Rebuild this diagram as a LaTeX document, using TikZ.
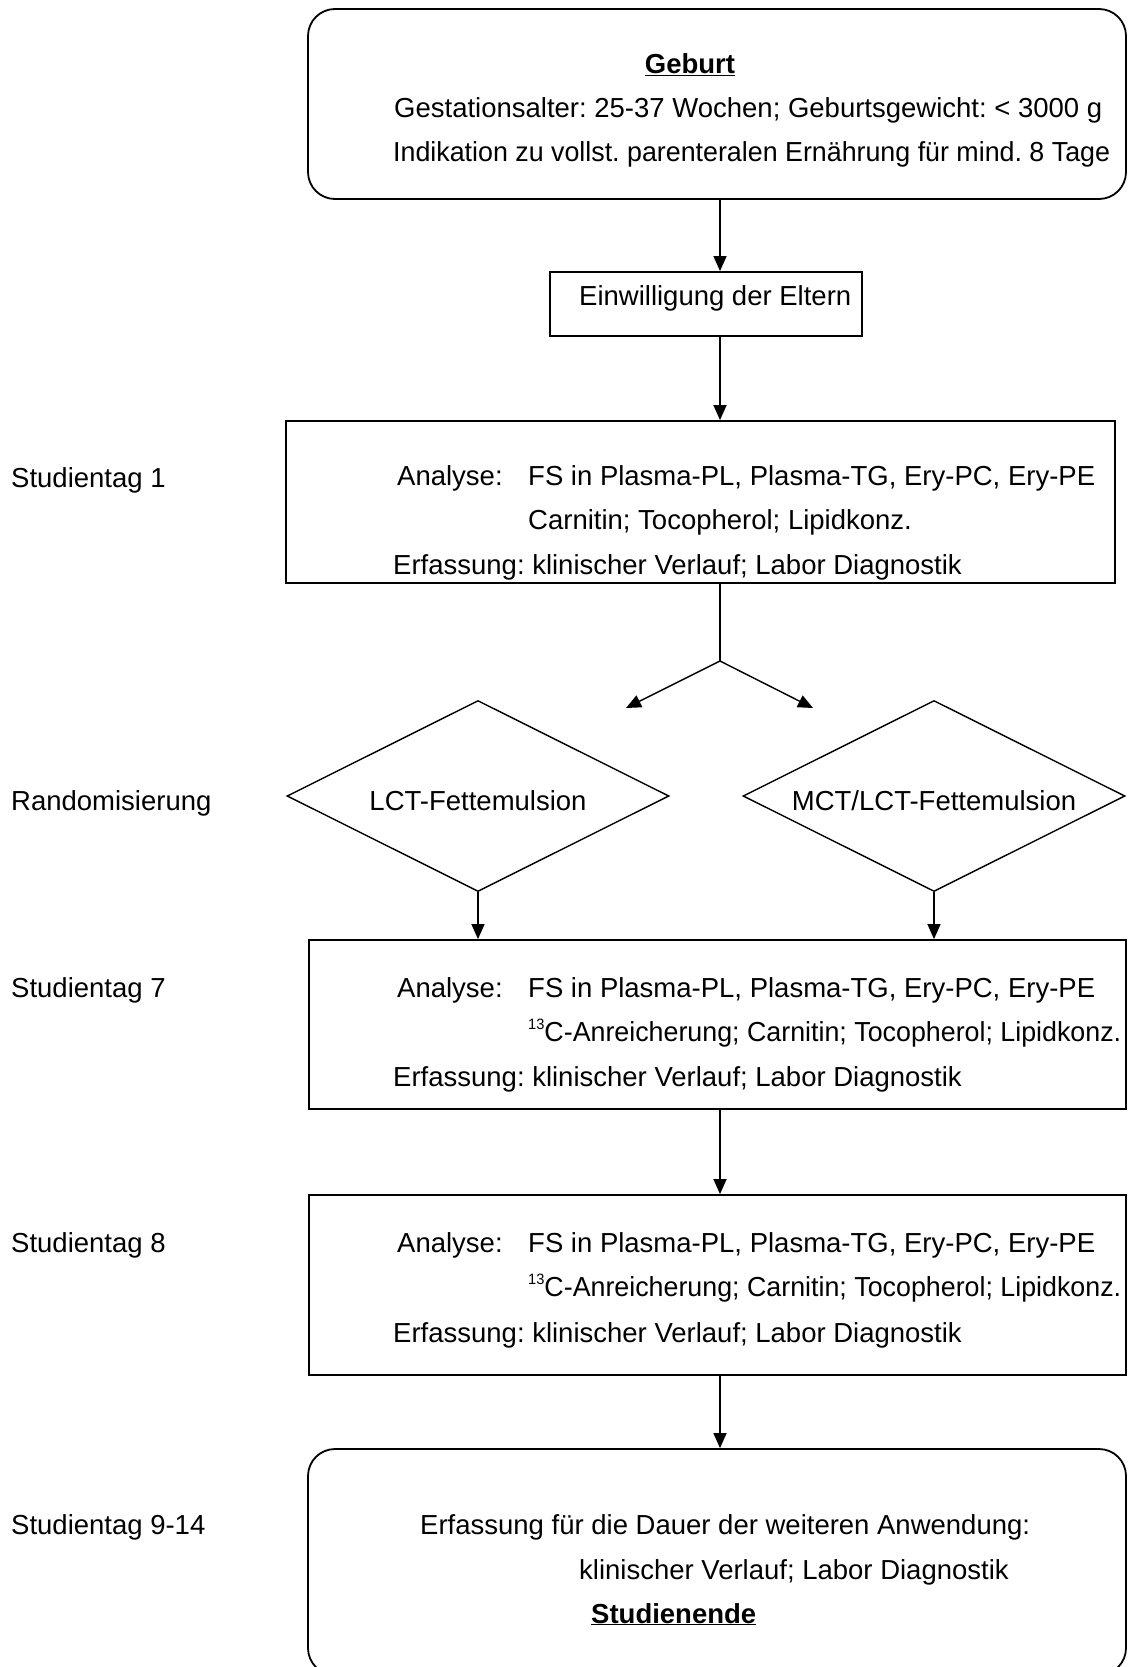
\documentclass[tikz,border=0pt]{standalone}
\usepackage{fontspec}
\setmainfont{Liberation Sans}
\usetikzlibrary{shapes.geometric,arrows.meta}
\newcommand{\hoch}[1]{\raisebox{0.42em}{\fontsize{15}{15}\selectfont #1}}
\newcommand{\eng}[1]{\scalebox{0.975}[1]{#1}}
\tikzset{
    kasten/.style={draw, line width=1.8pt, inner sep=0pt},
    rund/.style={kasten, rounded corners=27pt},
    raute/.style={draw, diamond, aspect=2, line width=1.4pt, inner sep=0pt,
        minimum width=382pt, minimum height=191pt},
    zeile/.style={anchor=base west, inner sep=0pt},
    mitte/.style={anchor=base, inner sep=0pt},
    linie/.style={line width=1.4pt},
}
\begin{document}
\frenchspacing
\begin{tikzpicture}[>={Triangle[length=15pt,width=13pt]}, x=1pt, y=-1pt,
    font=\fontsize{27.5}{33}\selectfont]
\useasboundingbox (0,0) rectangle (1127,1667);

\node[rund, minimum width=818pt, minimum height=190pt] (geburt) at (717,104) {};
\node[kasten, minimum width=312pt, minimum height=64pt] (einw) at (706,304) {};
\node[kasten, minimum width=829pt, minimum height=162pt] (tag1) at (700.5,502) {};
\node[raute] (lct) at (478,796) {};
\node[raute] (mct) at (934,796) {};
\node[kasten, minimum width=817pt, minimum height=169pt] (tag7) at (717.5,1024.5) {};
\node[kasten, minimum width=817pt, minimum height=180pt] (tag8) at (717.5,1285) {};
\node[rund, minimum width=818pt, minimum height=226pt] (ende) at (717,1562) {};

% linke Spalte
\node[zeile] (l1) at (11,487) {Studientag 1};
\node[zeile] (l2) at (11,810) {Randomisierung};
\node[zeile] (l3) at (11,997) {Studientag 7};
\node[zeile] (l4) at (11,1252) {Studientag 8};
\node[zeile] (l5) at (11,1534) {Studientag 9-14};

\node[mitte] (g1) at (690,74) {\underline{\textbf{Geburt}}};
\node[zeile] (g2) at (394,118) {Gestationsalter: 25-37 Wochen; Geburtsgewicht: < 3000 g};
\node[zeile] (g3) at (393,161) {\eng{Indikation zu vollst. parenteralen Ernährung für mind. 8 Tage}};

\node[zeile] (e1) at (579,305) {Einwilligung der Eltern};

\node[zeile] (a1) at (397,485) {Analyse:};
\node[zeile] (a2) at (528,485) {FS in Plasma-PL, Plasma-TG, Ery-PC, Ery-PE};
\node[zeile] (a3) at (528,529) {Carnitin; Tocopherol; Lipidkonz.};
\node[zeile] (a4) at (393,574) {Erfassung: klinischer Verlauf; Labor Diagnostik};

\node[mitte] (lctT) at (478,810) {LCT-Fettemulsion};
\node[mitte] (mctT) at (934,810) {MCT/LCT-Fettemulsion};

\node[zeile] (b1) at (397,997) {Analyse:};
\node[zeile] (b2) at (528,997) {FS in Plasma-PL, Plasma-TG, Ery-PC, Ery-PE};
\node[zeile] (b3) at (528,1041) {\eng{\hoch{13}C-Anreicherung; Carnitin; Tocopherol; Lipidkonz.}};
\node[zeile] (b4) at (393,1086) {Erfassung: klinischer Verlauf; Labor Diagnostik};

\node[zeile] (c1) at (397,1252) {Analyse:};
\node[zeile] (c2) at (528,1252) {FS in Plasma-PL, Plasma-TG, Ery-PC, Ery-PE};
\node[zeile] (c3) at (528,1296) {\eng{\hoch{13}C-Anreicherung; Carnitin; Tocopherol; Lipidkonz.}};
\node[zeile] (c4) at (393,1342) {Erfassung: klinischer Verlauf; Labor Diagnostik};

\node[zeile] (f1) at (420,1534) {Erfassung für die Dauer der weiteren Anwendung:};
\node[zeile] (f2) at (579,1579) {klinischer Verlauf; Labor Diagnostik};
\node[zeile] (f3) at (591,1623) {\underline{\textbf{Studienende}}};

% Pfeile
\coordinate (achse) at (720,0);
\coordinate (gabel) at (720,661);
\coordinate (zielL) at (626,708);
\coordinate (zielR) at (813,708);
\draw[linie,->] (geburt.south -| achse) -- (einw.north -| achse);
\draw[linie,->] (einw.south -| achse) -- (tag1.north -| achse);
\draw[linie] (tag1.south -| achse) -- (gabel);
\draw[linie,->] (gabel) -- (zielL);
\draw[linie,->] (gabel) -- (zielR);
\draw[linie,->] (lct.south) -- (lct.south |- tag7.north);
\draw[linie,->] (mct.south) -- (mct.south |- tag7.north);
\draw[linie,->] (tag7.south -| achse) -- (tag8.north -| achse);
\draw[linie,->] (tag8.south -| achse) -- (ende.north -| achse);

\end{tikzpicture}
\end{document}
